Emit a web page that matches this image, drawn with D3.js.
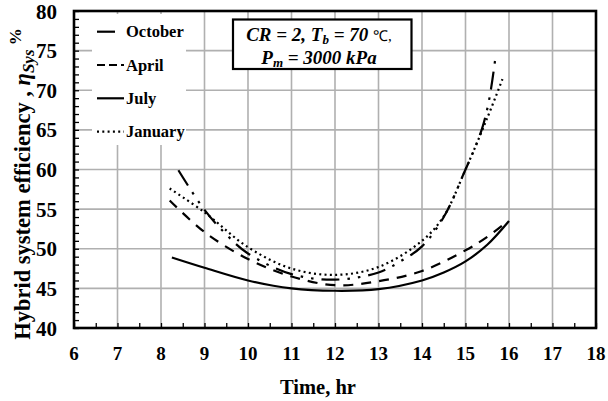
<!DOCTYPE html>
<html>
<head>
<meta charset="utf-8">
<script src="https://cdn.jsdelivr.net/npm/d3@7"></script>
<style>
  body { margin: 0; background: #fff; }
  svg text { font-family: "Liberation Serif", "Times New Roman", serif; font-weight: bold; }
</style>
</head>
<body>
<script>
'use strict';

// series (time in hr, efficiency in %)
const octX = [8.4, 9, 9.5, 10, 11, 12, 13, 13.5, 14, 14.5, 15, 15.2, 15.4, 15.55, 15.7];
const octY = [59.9, 54.9, 51.8, 49.4, 46.8, 46.1, 47.0, 48.4, 50.3, 54.0, 60.0, 62.5, 65.5, 69.0, 74.6];
const aprX = [8.2, 9, 10, 11, 12, 13, 14, 15, 15.5, 15.95];
const aprY = [56.1, 52.1, 48.7, 46.5, 45.4, 45.9, 47.2, 49.8, 51.5, 53.4];
const julX = [8.25, 9, 10, 11, 12, 13, 14, 14.5, 15, 15.5, 16];
const julY = [48.9, 47.6, 46.0, 45.0, 44.7, 44.9, 46.0, 47.0, 48.4, 50.5, 53.5];
const janX = [8.2, 9, 10, 11, 12, 13, 14, 14.5, 15, 15.5, 15.85];
const janY = [57.6, 54.6, 50.2, 47.5, 46.7, 47.7, 51.0, 54.1, 60.0, 66.5, 71.4];

const months = ['October', 'April', 'July', 'January'];
const xTicks = [6, 7, 8, 9, 10, 11, 12, 13, 14, 15, 16, 17, 18];
const yTicks = [40, 45, 50, 55, 60, 65, 70, 75, 80];

const W = 608, H = 401;
const plot = { left: 74, right: 596, top: 11, bottom: 328 };

const x = d3.scaleLinear().domain([6, 18]).range([plot.left, plot.right]);
const y = d3.scaleLinear().domain([40, 80]).range([plot.bottom, plot.top]);

const svg = d3.select('body').append('svg')
  .attr('width', W).attr('height', H);

// grid
svg.append('g').selectAll('line').data(xTicks.slice(1, -1)).enter().append('line')
  .attr('x1', d => x(d)).attr('x2', d => x(d))
  .attr('y1', plot.top).attr('y2', plot.bottom)
  .attr('stroke', '#b0b0b0').attr('stroke-width', 1.6);
svg.append('g').selectAll('line').data(yTicks.slice(1, -1)).enter().append('line')
  .attr('y1', d => y(d)).attr('y2', d => y(d))
  .attr('x1', plot.left).attr('x2', plot.right)
  .attr('stroke', '#b0b0b0').attr('stroke-width', 1.6);

// minor ticks, inside
const xAxis = d3.axisTop(x).ticks(24).tickSize(5).tickFormat('');
svg.append('g').attr('transform', `translate(0,${plot.bottom})`).call(xAxis)
  .call(g => g.select('.domain').remove())
  .selectAll('line').attr('stroke', '#000').attr('stroke-width', 1.3);
const yAxis = d3.axisRight(y).ticks(40).tickSize(5).tickFormat('');
svg.append('g').attr('transform', `translate(${plot.left},0)`).call(yAxis)
  .call(g => g.select('.domain').remove())
  .selectAll('line').attr('stroke', '#000').attr('stroke-width', 1.3);

// tick labels
svg.append('g').selectAll('text').data(xTicks).enter().append('text')
  .attr('x', d => x(d)).attr('y', plot.bottom + 32)
  .attr('text-anchor', 'middle').attr('font-size', 19)
  .text(d => d);
svg.append('g').selectAll('text').data(yTicks).enter().append('text')
  .attr('x', plot.left - 17).attr('y', d => y(d) + 7.5)
  .attr('text-anchor', 'end').attr('font-size', 21)
  .text(d => d);

// lines
const styles = {
  October: { dash: '18,8,2.5,8,2.5,8', w: 2.2 },
  April: { dash: '10,8', w: 2.2 },
  July: { dash: null, w: 2.2 },
  January: { dash: '2,3.3', w: 2.2 },
};
const series = [
  { name: 'October', xs: octX, ys: octY },
  { name: 'April', xs: aprX, ys: aprY },
  { name: 'July', xs: julX, ys: julY },
  { name: 'January', xs: janX, ys: janY },
];
const line = d3.line().x(d => x(d[0])).y(d => y(d[1])).curve(d3.curveCatmullRom.alpha(0.5));
series.forEach(s => {
  svg.append('path')
    .datum(d3.zip(s.xs, s.ys))
    .attr('d', line)
    .attr('fill', 'none')
    .attr('stroke', '#000')
    .attr('stroke-width', styles[s.name].w)
    .attr('stroke-dasharray', styles[s.name].dash);
});

// legend
svg.append('rect').attr('x', 92).attr('y', 14).attr('width', 94).attr('height', 131)
  .attr('fill', '#fff');
const lg = svg.append('g').selectAll('g').data(months).enter().append('g')
  .attr('transform', (d, i) => `translate(97,${31.7 + i * 33.3})`);
lg.append('line')
  .attr('x1', 0).attr('x2', d => d === 'October' ? 20 : 27)
  .attr('stroke', '#000').attr('stroke-width', 2.2)
  .attr('stroke-dasharray', d => d === 'April' ? '8,4' : styles[d].dash);
lg.append('text').attr('x', 29).attr('y', 5.5)
  .attr('font-size', 16.5).text(d => d);

// frame
svg.append('rect').attr('x', plot.left).attr('y', plot.top)
  .attr('width', plot.right - plot.left).attr('height', plot.bottom - plot.top)
  .attr('fill', 'none').attr('stroke', '#000').attr('stroke-width', 2.6);

// annotation box
svg.append('rect').attr('x', 233).attr('y', 19.5).attr('width', 178.5).attr('height', 49.5)
  .attr('fill', '#fff').attr('stroke', '#000').attr('stroke-width', 2.2);
const note = svg.append('g').attr('font-style', 'italic').attr('font-size', 19);
const l1 = note.append('text').attr('x', 319).attr('y', 41).attr('text-anchor', 'middle');
l1.append('tspan').text('CR = 2, T');
l1.append('tspan').attr('font-size', 13).attr('dy', 3).text('b');
l1.append('tspan').attr('dy', -3).text(' = 70 ');
l1.append('tspan').attr('font-style', 'normal').attr('font-weight', 'normal')
  .attr('font-size', 15).text('℃,');
const l2 = note.append('text').attr('x', 319).attr('y', 63.5).attr('text-anchor', 'middle');
l2.append('tspan').text('P');
l2.append('tspan').attr('font-size', 13).attr('dy', 3).text('m');
l2.append('tspan').attr('dy', -3).text(' = 3000 kPa');

// axis titles
svg.append('text').attr('x', 318).attr('y', 394)
  .attr('text-anchor', 'middle').attr('font-size', 20.5).text('Time, hr');
const yl = svg.append('text')
  .attr('transform', 'translate(30,184) rotate(-90)')
  .attr('text-anchor', 'middle').attr('font-size', 22.5);
yl.append('tspan').text('Hybrid system efficiency , ');
yl.append('tspan').attr('font-style', 'italic').text('η');
yl.append('tspan').attr('font-style', 'italic').attr('font-size', 17).attr('dy', 4).text('Sys');
yl.append('tspan').attr('font-size', 17).attr('dy', -13).text(' %');
</script>
</body>
</html>
